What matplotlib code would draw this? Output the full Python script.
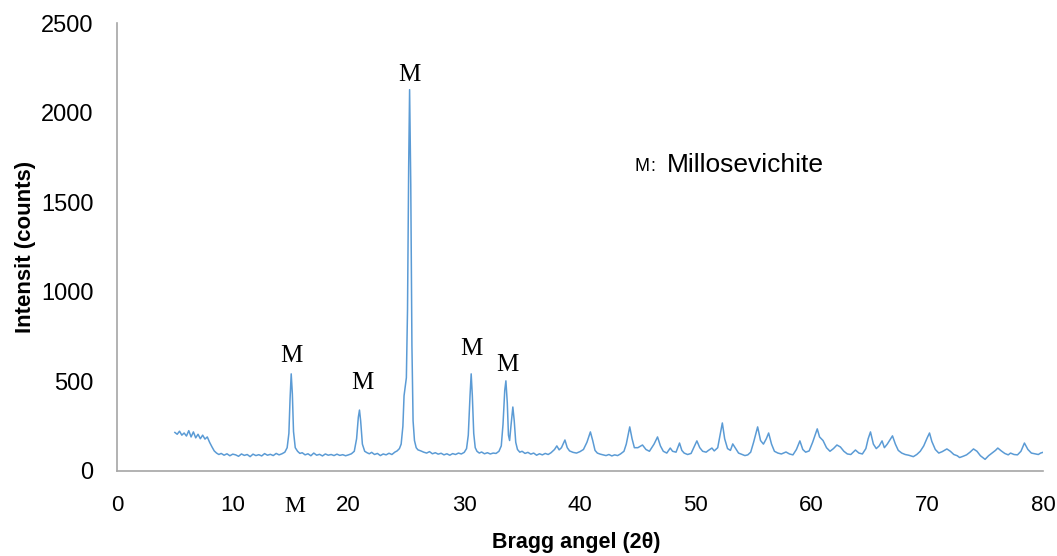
import matplotlib
matplotlib.use("Agg")
import matplotlib.pyplot as plt

# XRD pattern (2-theta in degrees, intensity in counts)
two_theta = [
    5.0, 5.2, 5.4, 5.6, 5.8, 6.0, 6.2, 6.4, 6.6, 6.8, 7.0, 7.2, 7.4, 7.6, 7.8,
    8.0, 8.2, 8.4, 8.6, 8.8, 9.0, 9.25, 9.5, 9.75, 10.0, 10.25, 10.5, 10.75,
    11.0, 11.25, 11.5, 11.75, 12.0, 12.25, 12.5, 12.75, 13.0, 13.25, 13.5,
    13.75, 14.0, 14.25, 14.5, 14.7, 14.85, 14.95, 15.05, 15.15, 15.25, 15.4,
    15.6, 15.8, 16.0, 16.25, 16.5, 16.75, 17.0, 17.25, 17.5, 17.75, 18.0,
    18.25, 18.5, 18.75, 19.0, 19.25, 19.5, 19.75, 20.0, 20.25, 20.5, 20.7,
    20.85, 20.95, 21.05, 21.2, 21.4, 21.6, 21.8, 22.0, 22.25, 22.5, 22.75,
    23.0, 23.25, 23.5, 23.75, 24.0, 24.2, 24.4, 24.55, 24.7, 24.8, 24.9,
    25.0, 25.1, 25.2, 25.28, 25.38, 25.48, 25.58, 25.7, 25.85, 26.0, 26.25,
    26.5, 26.75, 27.0, 27.25, 27.5, 27.75, 28.0, 28.25, 28.5, 28.75, 29.0,
    29.25, 29.5, 29.75, 30.0, 30.2, 30.35, 30.5, 30.6, 30.7, 30.82, 30.95,
    31.1, 31.3, 31.5, 31.75, 32.0, 32.25, 32.5, 32.75, 33.0, 33.2, 33.35,
    33.5, 33.6, 33.72, 33.82, 33.92, 34.05, 34.2, 34.32, 34.45, 34.6, 34.8,
    35.0, 35.25, 35.5, 35.75, 36.0, 36.25, 36.5, 36.75, 37.0, 37.25, 37.5,
    37.8, 38.0, 38.2, 38.4, 38.7, 38.9, 39.1, 39.4, 39.7, 40.0, 40.3, 40.6,
    40.9, 41.1, 41.3, 41.5, 41.75, 42.0, 42.25, 42.5, 42.75, 43.0, 43.25,
    43.5, 43.8, 44.0, 44.3, 44.5, 44.7, 45.0, 45.4, 45.7, 46.0, 46.4, 46.7,
    46.95, 47.2, 47.5, 47.8, 48.0, 48.3, 48.6, 48.8, 49.0, 49.3, 49.6, 49.9,
    50.1, 50.35, 50.6, 50.9, 51.1, 51.4, 51.6, 51.9, 52.1, 52.3, 52.5, 52.75,
    53.0, 53.2, 53.45, 53.7, 54.0, 54.25, 54.5, 54.75, 55.0, 55.35, 55.6,
    55.85, 56.1, 56.3, 56.55, 56.8, 57.1, 57.4, 57.8, 58.1, 58.4, 58.7, 59.0,
    59.25, 59.5, 59.8, 60.1, 60.5, 60.7, 60.85, 61.0, 61.3, 61.6, 61.9, 62.2,
    62.5, 62.8, 63.1, 63.4, 63.8, 64.1, 64.4, 64.7, 64.9, 65.1, 65.35, 65.6,
    65.85, 66.1, 66.3, 66.55, 67.0, 67.25, 67.5, 67.8, 68.1, 68.4, 68.8,
    69.1, 69.4, 69.7, 70.0, 70.2, 70.4, 70.7, 71.0, 71.3, 71.7, 72.0, 72.3,
    72.6, 72.8, 73.1, 73.4, 73.7, 74.0, 74.3, 74.6, 75.0, 75.3, 75.6, 75.9,
    76.1, 76.4, 76.7, 77.0, 77.2, 77.5, 77.8, 78.1, 78.4, 78.7, 79.0, 79.3,
    79.6, 79.8, 80.0,
]
counts = [
    215, 205, 222, 200, 212, 195, 225, 190, 218, 185, 205, 180, 200, 178, 190,
    160, 135, 112, 100, 92, 98, 88, 96, 85, 94, 90, 82, 95,
    87, 92, 80, 94, 86, 91, 84, 97, 88, 93, 86,
    98, 90, 96, 105, 130, 210, 400, 542, 430, 220, 130,
    110, 98, 102, 90, 96, 85, 100, 88, 93, 84, 95,
    88, 92, 86, 94, 87, 91, 85, 90, 96, 110, 180,
    300, 340, 280, 150, 110, 102, 96, 104, 92, 98, 86,
    95, 90, 99, 92, 105, 112, 125, 150, 250, 420, 470,
    520, 900, 1700, 2128, 1600, 700, 280, 170, 130, 118, 112,
    105, 100, 108, 96, 102, 94, 99, 90, 96, 88, 97,
    92, 100, 95, 104, 125, 200, 420, 542, 420, 210, 130,
    110, 100, 106, 96, 102, 95, 100, 98, 110, 140, 260,
    450, 503, 380, 200, 170, 260, 357, 280, 160, 120, 105,
    110, 98, 104, 94, 100, 88, 96, 90, 98, 92, 102,
    120, 140, 118, 130, 173, 130, 112, 104, 100, 108, 120, 160,
    218, 170, 115, 100, 94, 90, 86, 92, 84, 90, 86,
    95, 110, 150, 246, 180, 130, 130, 145, 120, 110, 150, 190,
    140, 110, 100, 128, 110, 105, 156, 115, 100, 92, 98, 140,
    168, 130, 110, 105, 115, 128, 112, 130, 200, 268, 180, 125,
    115, 151, 125, 100, 92, 86, 90, 105, 160, 246, 170,
    150, 180, 212, 150, 110, 100, 95, 106, 95, 90, 120, 168,
    120, 105, 112, 160, 235, 190, 180, 170, 130, 110, 125, 145,
    134, 110, 95, 92, 117, 100, 95, 125, 180, 218, 150, 125,
    140, 168, 130, 150, 196, 150, 115, 100, 92, 88, 80,
    92, 110, 140, 185, 212, 165, 120, 100, 108, 123, 110, 92,
    85, 75, 82, 90, 105, 123, 110, 85, 65, 85, 100, 115,
    128, 112, 98, 90, 100, 92, 90, 110, 156, 120, 100, 96,
    92, 100, 104,
]

# peak markers (Millosevichite)
peak_x = [15.1, 21.2, 25.3, 30.6, 33.7]
peak_label_y = [640, 490, 2210, 680, 590]

fig = plt.figure(figsize=(10.57, 5.56), dpi=100)
ax = fig.add_axes([0.1107, 0.1529, 0.876, 0.8057])

ax.plot(two_theta, counts, color='#5B9BD5', linewidth=1.1)

for px, py in zip(peak_x, peak_label_y):
    ax.text(px, py, 'M', family='Liberation Serif', fontsize=18,
            ha='center', va='center')
# stray marker below the axis as in the original
ax.text(15.4, -200, 'M', family='Liberation Serif', fontsize=17,
        ha='center', va='center', clip_on=False)

# legend note
ax.text(44.75, 1700, 'M', family='Liberation Sans', fontsize=13,
        ha='left', va='center')
ax.text(46.1, 1700, ':', family='Liberation Sans', fontsize=13,
        ha='left', va='center')
ax.text(47.5, 1710, 'Millosevichite', family='Liberation Sans', fontsize=19,
        ha='left', va='center')

ax.set_xlim(0, 80)
ax.set_ylim(0, 2500)
ax.set_xticks(range(0, 81, 10))
ax.set_yticks(range(0, 2501, 500))
ax.tick_params(length=0)
ax.tick_params(axis='x', pad=17, labelsize=16)
ax.tick_params(axis='y', pad=17, labelsize=17)
for lab in ax.get_xticklabels() + ax.get_yticklabels():
    lab.set_family('Liberation Sans')

for side in ['top', 'right']:
    ax.spines[side].set_visible(False)
for side in ['left', 'bottom']:
    ax.spines[side].set_color('#A6A6A6')
    ax.spines[side].set_linewidth(1.2)

fig.text(0.0237, 0.555, 'Intensit (counts)', rotation=90, fontsize=16,
         fontweight='bold', family='Liberation Sans', ha='center', va='center')
fig.text(0.545, 0.025, 'Bragg angel (2θ)', fontsize=15.5, fontweight='bold',
         family='Liberation Sans', ha='center', va='center')

fig.savefig('out.png', dpi=100)
